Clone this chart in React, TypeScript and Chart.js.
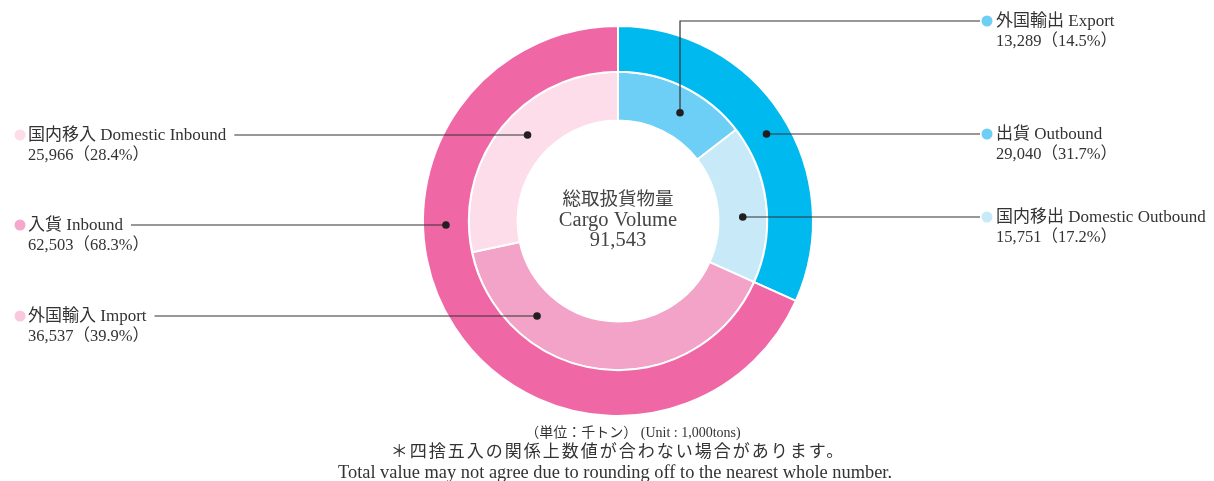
import React, { useEffect, useRef } from "react";
import { Chart, registerables } from "chart.js";

Chart.register(...registerables);

// ---- data ----
const outerLabels = ["出貨 Outbound", "入貨 Inbound"];
const outerValues = [29040, 62503];
const outerColors = ["#00B9EF", "#F067A6"];
const outerDotColors = ["#6DCFF6", "#F4A8CB"];

const innerLabels = [
  "外国輸出 Export",
  "国内移出 Domestic Outbound",
  "外国輸入 Import",
  "国内移入 Domestic Inbound",
];
const innerValues = [13289, 15751, 36537, 25966];
const innerColors = ["#6DCFF6", "#C7E9F8", "#F2A3C7", "#FCDDE9"];
const innerDotColors = ["#6DCFF6", "#C7E9F8", "#F9C8DC", "#FCDDE9"];

const centerTitle = ["総取扱貨物量", "Cargo Volume"];
const totalValue = 91543;

const footnotes = [
  "（単位：千トン） (Unit : 1,000tons)",
  "＊四捨五入の関係上数値が合わない場合があります。",
  "Total value may not agree due to rounding off to the nearest whole number.",
];

// label layout: [datasetIndex, dataIndex, side, labelY, mode, arcFraction]
const labelLayout: [number, number, "L" | "R", number, "arc" | "row", number][] = [
  [1, 0, "R", 21, "arc", 0.57],
  [0, 0, "R", 134, "row", 0],
  [1, 1, "R", 217, "row", 0],
  [1, 3, "L", 135, "row", 0],
  [0, 1, "L", 225, "row", 0],
  [1, 2, "L", 316, "row", 0],
];

const FONT_FAMILY = '"Liberation Serif", "Noto Sans CJK JP", serif';
const TEXT_COLOR = "#333333";

const fmt = (v: number) => v.toLocaleString("en-US");
const pct = (v: number) => ((v / totalValue) * 100).toFixed(1);

const annotationPlugin = {
  id: "annotations",
  afterDatasetsDraw(chart: any) {
    const ctx = chart.ctx as any;
    ctx.save();
    const labelSets = [outerLabels, innerLabels];
    const valueSets = [outerValues, innerValues];
    const dotSets = [outerDotColors, innerDotColors];

    labelLayout.forEach(([ds, idx, side, ly, mode, frac]) => {
      const arc: any = chart.getDatasetMeta(ds).data[idx];
      const cx = arc.x;
      const cy = arc.y;
      const r = (arc.innerRadius + arc.outerRadius) / 2;
      let px: number, py: number;
      if (mode === "arc") {
        const a = arc.startAngle + (arc.endAngle - arc.startAngle) * frac;
        px = cx + Math.cos(a) * r;
        py = cy + Math.sin(a) * r;
      } else {
        const dy = ly - cy;
        const dx = Math.sqrt(Math.max(0, r * r - dy * dy));
        px = cx + (side === "R" ? dx : -dx);
        py = ly;
      }

      const name = labelSets[ds][idx];
      const val = valueSets[ds][idx];
      const line2 = `${fmt(val)}（${pct(val)}%）`;

      ctx.font = `17px ${FONT_FAMILY}`;
      ctx.textBaseline = "middle";
      ctx.textAlign = "left";
      const textX = side === "R" ? 996 : 28;
      const legendDotX = side === "R" ? 987 : 20;
      const nameW = ctx.measureText(name).width;

      // leader line
      ctx.strokeStyle = "#333";
      ctx.lineWidth = 1.2;
      ctx.beginPath();
      if (side === "R") {
        ctx.moveTo(px, py);
        if (mode === "arc") ctx.lineTo(px, ly);
        ctx.lineTo(980, ly);
      } else {
        ctx.moveTo(textX + nameW + 8, ly);
        ctx.lineTo(px, py);
      }
      ctx.stroke();

      // anchor dot
      ctx.fillStyle = "#231F20";
      ctx.beginPath();
      ctx.arc(px, py, 3.8, 0, Math.PI * 2);
      ctx.fill();

      // legend dot
      ctx.fillStyle = dotSets[ds][idx];
      ctx.beginPath();
      ctx.arc(legendDotX, ly, 5.5, 0, Math.PI * 2);
      ctx.fill();

      // texts
      ctx.fillStyle = TEXT_COLOR;
      ctx.fillText(name, textX, ly + 1);
      ctx.font = `16.5px ${FONT_FAMILY}`;
      ctx.fillText(line2, textX, ly + 21);
    });

    // center text
    const meta: any = chart.getDatasetMeta(0).data[0];
    const ccx = meta.x;
    const ccy = meta.y;
    ctx.textAlign = "center";
    ctx.textBaseline = "middle";
    ctx.fillStyle = "#444";
    ctx.font = `18.5px ${FONT_FAMILY}`;
    ctx.fillText(centerTitle[0], ccx, ccy - 21);
    ctx.font = `20.5px ${FONT_FAMILY}`;
    ctx.fillText(centerTitle[1], ccx, ccy);
    ctx.fillText(fmt(totalValue), ccx, ccy + 20);

    // footnotes
    ctx.fillStyle = "#333";
    ctx.font = `14px ${FONT_FAMILY}`;
    ctx.fillText(footnotes[0], 633, 433);
    ctx.font = `17px ${FONT_FAMILY}`;
    ctx.letterSpacing = "2px";
    ctx.fillText(footnotes[1], 618, 453);
    ctx.letterSpacing = "0px";
    ctx.font = `18.4px ${FONT_FAMILY}`;
    ctx.fillText(footnotes[2], 615, 473);

    ctx.restore();
  },
};

export default function App() {
  const ref = useRef<HTMLCanvasElement | null>(null);
  useEffect(() => {
    document.body.style.margin = "0";
    const canvas = ref.current;
    if (!canvas) return;
    const chart = new Chart(canvas, {
      type: "doughnut",
      data: {
        labels: innerLabels,
        datasets: [
          {
            data: outerValues,
            backgroundColor: outerColors,
            borderColor: "#ffffff",
            borderWidth: 2,
            weight: 46,
          } as any,
          {
            data: innerValues,
            backgroundColor: innerColors,
            borderColor: "#ffffff",
            borderWidth: 2,
            weight: 49,
          } as any,
        ],
      },
      options: {
        responsive: false,
        animation: false,
        cutout: "51.5%",
        layout: { padding: { left: 22, right: 0, top: 25, bottom: 64 } },
        plugins: {
          legend: { display: false },
          tooltip: { enabled: false },
        },
      },
      plugins: [annotationPlugin],
    });
    return () => chart.destroy();
  }, []);
  return (
    <div style={{ width: 1214, height: 481 }}>
      <canvas ref={ref} width={1214} height={481} />
    </div>
  );
}
